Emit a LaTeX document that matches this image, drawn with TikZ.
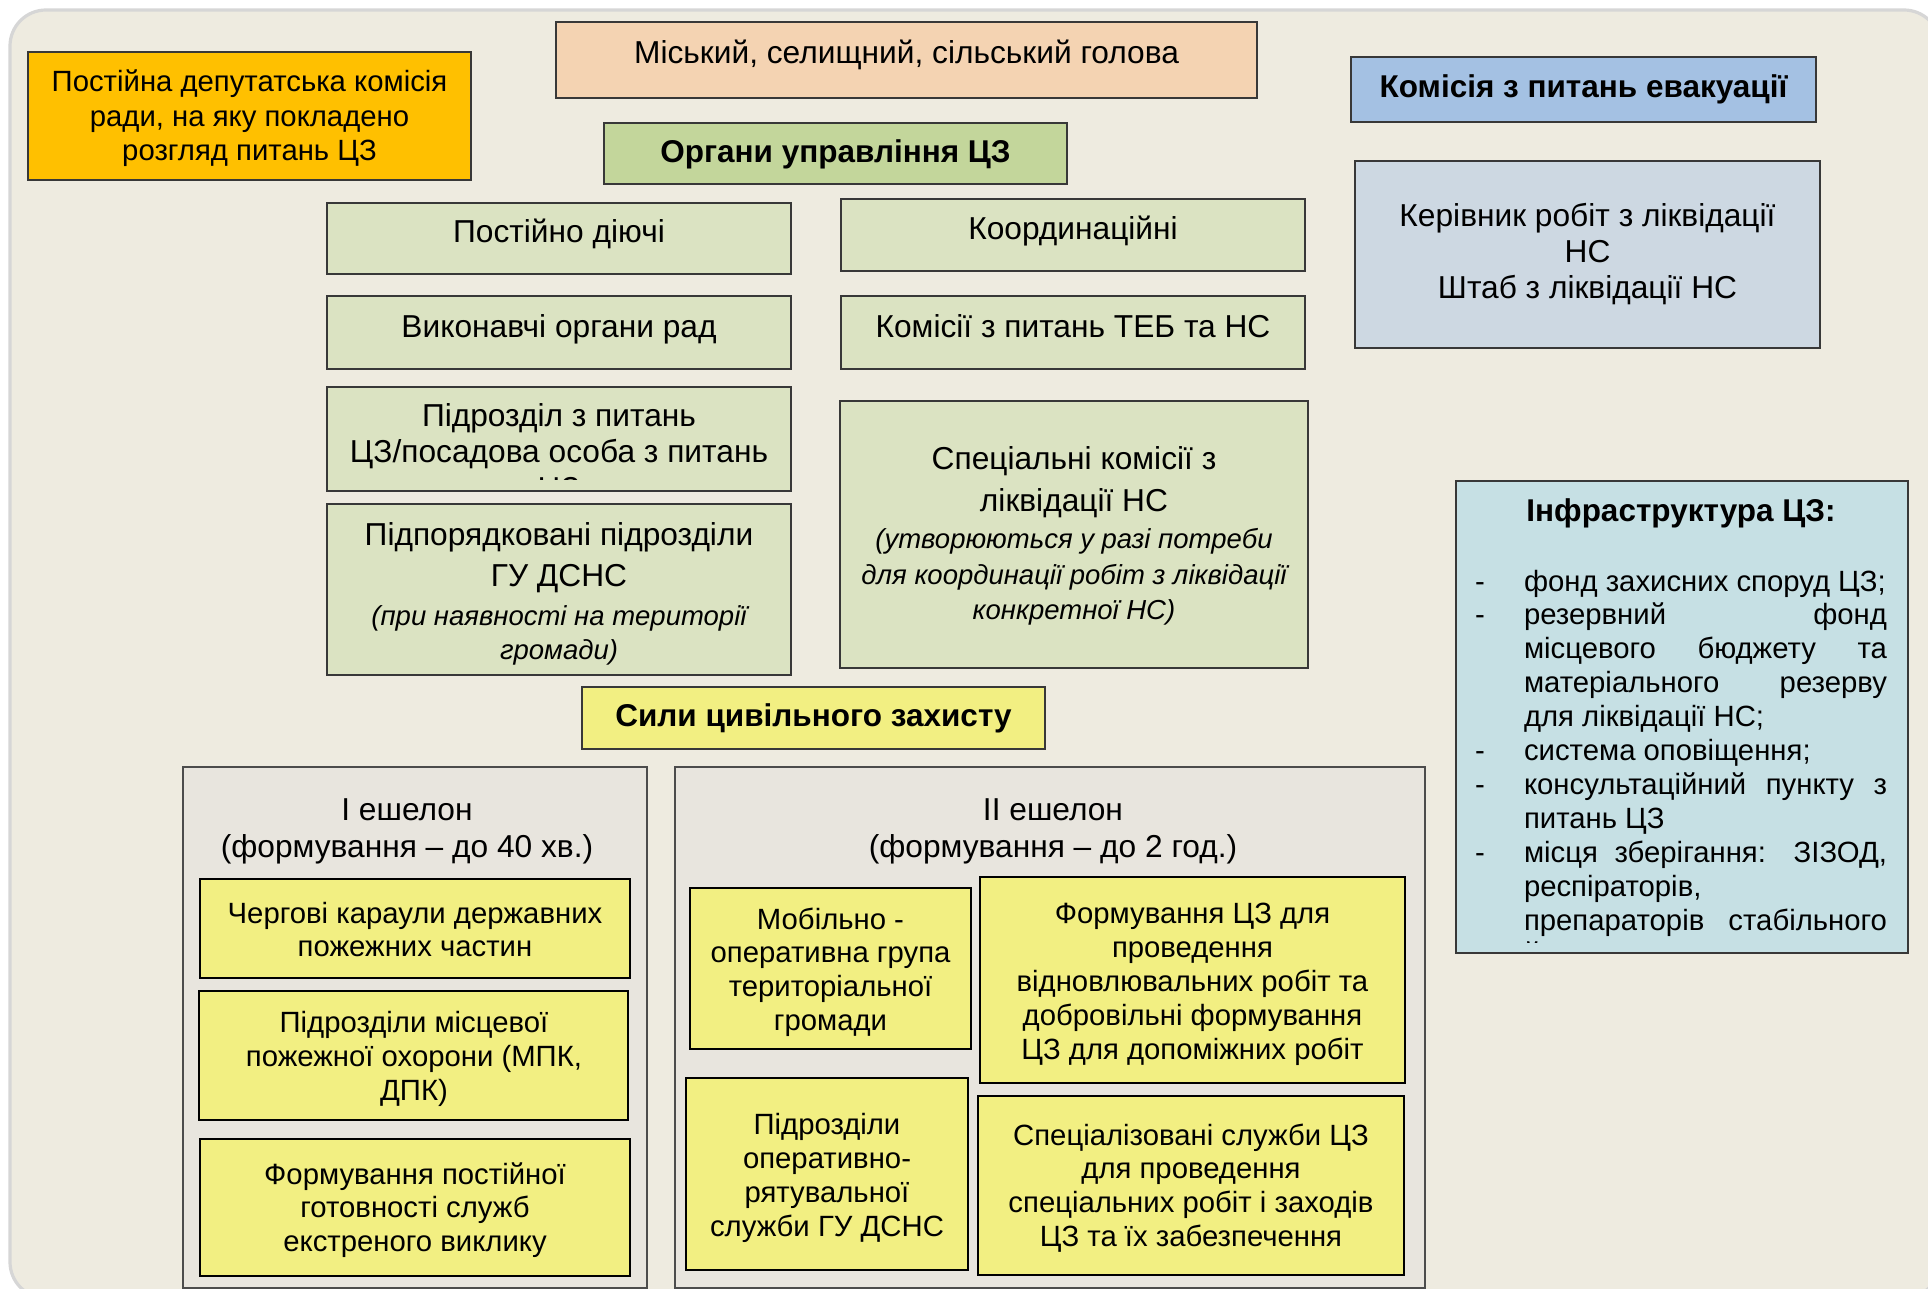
\documentclass[tikz,border=0pt]{standalone}
\usepackage{fontspec}
\setmainfont{Liberation Sans}
\definecolor{bgc}{HTML}{EEEBE0}
\definecolor{bord}{HTML}{D6D6D6}
\definecolor{contc}{HTML}{E8E5DE}
\definecolor{ylw}{HTML}{F2EF82}
\definecolor{lgrn}{HTML}{DBE3C2}
\definecolor{tgrn}{HTML}{C3D69B}
\definecolor{orng}{HTML}{FFC000}
\definecolor{peach}{HTML}{F4D3B2}
\definecolor{blu}{HTML}{A4C1E3}
\definecolor{gblu}{HTML}{CDD8E2}
\definecolor{infc}{HTML}{C6E0E4}
\newcommand\myblock[2]{\parbox[t]{#1}{\centering #2}}
\newcommand\fS{\fontsize{14.65}{16.95}\selectfont}
\newcommand\fM{\fontsize{15.85}{18.25}\selectfont}
\newcommand\fB{\fontsize{15.75}{18}\selectfont\bfseries}
\begin{document}
\begin{tikzpicture}[x=0.5pt,y=-0.5pt,
  bx/.style={draw=black!78, line width=0.8pt, inner sep=0pt, outer sep=0pt},
  ybx/.style={draw=black, line width=1.2pt, fill=ylw, inner sep=0pt, outer sep=0pt},
  cont/.style={draw=black!70, line width=0.8pt, fill=contc, inner sep=0pt, outer sep=0pt},
  tx/.style={inner sep=0pt, outer sep=0pt, anchor=base}]
\useasboundingbox (0,0) rectangle (1928,1289);
\fill[white] (0,0) rectangle (1928,1289);
\draw[draw=bord, line width=1.6pt, fill=bgc, rounded corners=18pt] (10,10) rectangle (1940,1298);

% top row
\node[bx, fill=orng, minimum width=221.5pt, minimum height=64pt] (orange) at (249.5,116) {};
\node[tx] (orangeT) at (249.5,92) {\myblock{221pt}{\fontsize{14.65}{17.2}\selectfont Постійна депутатська комісія\\ради, на яку покладено\\розгляд питань ЦЗ}};

\node[bx, fill=peach, minimum width=350.5pt, minimum height=38pt] (mayor) at (906.5,60) {};
\node[tx] (mayorT) at (906.5,64) {\myblock{350pt}{\fM Міський, селищний, сільський голова}};

\node[bx, fill=tgrn, minimum width=231.5pt, minimum height=30.5pt] (organs) at (835.5,153.5) {};
\node[tx] (organsT) at (835.5,163) {\myblock{231pt}{\fB Органи управління ЦЗ}};

\node[bx, fill=blu, minimum width=232.5pt, minimum height=32.5pt] (evac) at (1583.5,89.5) {};
\node[tx] (evacT) at (1583.5,98) {\myblock{232pt}{\fB Комісія з питань евакуації}};

\node[bx, fill=gblu, minimum width=232.5pt, minimum height=93.5pt] (head) at (1587.5,254.5) {};
\node[tx] (headT) at (1587.5,227) {\myblock{232pt}{\fontsize{15.85}{17.9}\selectfont Керівник робіт з ліквідації\\НС\\Штаб з ліквідації НС}};

% management bodies
\node[bx, fill=lgrn, minimum width=232pt, minimum height=35.5pt] (perm) at (559,238.5) {};
\node[tx] (permT) at (559,243) {\myblock{232pt}{\fM Постійно діючі}};

\node[bx, fill=lgrn, minimum width=232pt, minimum height=36pt] (coord) at (1073,235) {};
\node[tx] (coordT) at (1073,240) {\myblock{232pt}{\fM Координаційні}};

\node[bx, fill=lgrn, minimum width=232pt, minimum height=36.5pt] (exec) at (559,332.5) {};
\node[tx] (execT) at (559,337) {\myblock{232pt}{\fM Виконавчі органи рад}};

\node[bx, fill=lgrn, minimum width=232pt, minimum height=36.5pt] (teb) at (1073,332.5) {};
\node[tx] (tebT) at (1073,337) {\myblock{232pt}{\fM Комісії з питань ТЕБ та НС}};

\node[bx, fill=lgrn, minimum width=232pt, minimum height=52pt] (unit) at (559,439) {};
\begin{scope}
\clip (327,387) rectangle (791,479);
\node[tx] (unitT) at (559,426) {\myblock{232pt}{\fM Підрозділ з питань\\ЦЗ/посадова особа з питань\\ЦЗ}};
\end{scope}

\node[bx, fill=lgrn, minimum width=232pt, minimum height=85.5pt] (sub) at (559,589.5) {};
\node[tx] (subT) at (559,545) {\parbox[t]{232pt}{\centering\fontsize{15.85}{20.5}\selectfont Підпорядковані підрозділи\\ГУ ДСНС\par\vspace{2.5pt}\fontsize{13.75}{17}\selectfont\itshape (при наявності на території\\громади)\par}};

\node[bx, fill=lgrn, minimum width=234pt, minimum height=133.5pt] (spec) at (1074,534.5) {};
\node[tx] (specT) at (1074,469.5) {\parbox[t]{234pt}{\centering\fontsize{15.85}{20.75}\selectfont Спеціальні комісії з\\ліквідації НС\par\vspace{1pt}\fontsize{13.75}{17.75}\selectfont\itshape (утворюються у разі потреби\\для координації робіт з ліквідації\\конкретної НС)\par}};

% forces
\node[bx, fill=ylw, minimum width=231.5pt, minimum height=31pt] (forces) at (813.5,718) {};
\node[tx] (forcesT) at (813.5,726) {\myblock{231pt}{\fB Сили цивільного захисту}};

% infrastructure
\node[bx, fill=infc, minimum width=226pt, minimum height=236pt] (infra) at (1682,717) {};
\node[tx] (infraT) at (1681,521) {\myblock{226pt}{\fB Інфраструктура ЦЗ:}};
\begin{scope}
\clip (1456,481) rectangle (1908,942);
\node[tx, anchor=base west] (infraL) at (1475,591) {\parbox[t]{210pt}{\raggedright\fS
\makebox[24.5pt][l]{-}фонд захисних споруд ЦЗ;\\
\makebox[24.5pt][l]{-}\makebox[181.5pt][s]{резервний фонд}\\
\hspace*{24.5pt}\makebox[181.5pt][s]{місцевого бюджету та}\\
\hspace*{24.5pt}\makebox[181.5pt][s]{матеріального резерву}\\
\hspace*{24.5pt}для ліквідації НС;\\
\makebox[24.5pt][l]{-}система оповіщення;\\
\makebox[24.5pt][l]{-}\makebox[181.5pt][s]{консультаційний пункту з}\\
\hspace*{24.5pt}питань ЦЗ\\
\makebox[24.5pt][l]{-}\makebox[181.5pt][s]{місця зберігання: ЗІЗОД,}\\
\hspace*{24.5pt}респіраторів,\\
\hspace*{24.5pt}\makebox[181.5pt][s]{препараторів стабільного}\\
\hspace*{24.5pt}йоду}};
\end{scope}

% echelons
\node[cont, minimum width=232pt, minimum height=260.5pt] (ech1) at (415,1027.5) {};
\node[tx] (ech1T) at (407,820) {\myblock{232pt}{\fontsize{15.85}{18.5}\selectfont І ешелон\\(формування – до 40 хв.)}};
\node[cont, minimum width=375pt, minimum height=260.5pt] (ech2) at (1050,1027.5) {};
\node[tx] (ech2T) at (1053,820) {\myblock{375pt}{\fontsize{15.85}{18.5}\selectfont ІІ ешелон\\(формування – до 2 год.)}};

\node[ybx, minimum width=215pt, minimum height=49.5pt] (y1) at (415,928.5) {};
\node[tx] (y1T) at (415,923) {\myblock{215pt}{\fS Чергові караули державних\\пожежних частин}};
\node[ybx, minimum width=214.5pt, minimum height=64.5pt] (y2) at (413.5,1055.5) {};
\node[tx] (y2T) at (414,1032.5) {\myblock{214pt}{\fS Підрозділи місцевої\\пожежної охорони (МПК,\\ДПК)}};
\node[ybx, minimum width=215pt, minimum height=68.5pt] (y3) at (415,1207.5) {};
\node[tx] (y3T) at (415,1184) {\myblock{215pt}{\fS Формування постійної\\готовності служб\\екстреного виклику}};

\node[ybx, minimum width=140.5pt, minimum height=80.5pt] (y4) at (830.5,968.5) {};
\node[tx] (y4T) at (830.5,929) {\myblock{140pt}{\fS Мобільно -\\оперативна група\\територіальної\\громади}};
\node[ybx, minimum width=212.5pt, minimum height=103pt] (y5) at (1192.5,980) {};
\node[tx] (y5T) at (1192.5,923.5) {\myblock{212pt}{\fS Формування ЦЗ для\\проведення\\відновлювальних робіт та\\добровільні формування\\ЦЗ для допоміжних робіт}};
\node[ybx, minimum width=141pt, minimum height=96pt] (y6) at (827,1174) {};
\node[tx] (y6T) at (827,1134.5) {\myblock{141pt}{\fS Підрозділи\\оперативно-\\рятувальної\\служби ГУ ДСНС}};
\node[ybx, minimum width=213pt, minimum height=89.5pt] (y7) at (1191,1185.5) {};
\node[tx] (y7T) at (1191,1145) {\myblock{213pt}{\fS Спеціалізовані служби ЦЗ\\для проведення\\спеціальних робіт і заходів\\ЦЗ та їх забезпечення}};
\end{tikzpicture}
\end{document}
